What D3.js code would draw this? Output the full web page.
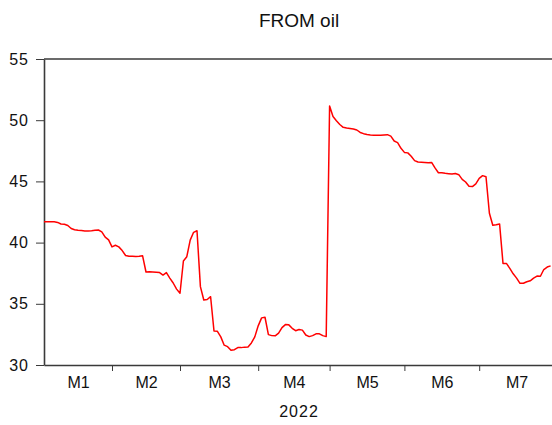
<!DOCTYPE html>
<html>
<head>
<meta charset="utf-8">
<script src="https://cdn.jsdelivr.net/npm/d3@7"></script>
<style>
  body { margin: 0; background: #fff; }
  svg { display: block; font-family: "Liberation Sans", Arial, sans-serif; }
</style>
</head>
<body>
<svg id="chart" width="552" height="425"></svg>
<script>
// daily (business day) observations, Jan 4 2022 .. Aug 1 2022
const oilValues = [
  41.71, 41.71, 41.70, 41.70, 41.65, 41.52, 41.50, 41.40, 41.15, 41.05,
  41.00, 40.98, 40.95, 40.95, 40.97, 41.00, 41.03, 40.88, 40.45, 40.22,
  39.65, 39.78, 39.65, 39.35, 38.95, 38.88, 38.88, 38.86, 38.88, 38.92,
  37.60, 37.62, 37.60, 37.58, 37.55, 37.35, 37.55, 37.10, 36.70, 36.20,
  35.86, 38.50, 38.85, 40.20, 40.84, 40.97, 36.40, 35.31, 35.35, 35.58,
  32.78, 32.75, 32.30, 31.62, 31.50, 31.20, 31.25, 31.42, 31.42, 31.46,
  31.47, 31.80, 32.30, 33.20, 33.85, 33.90, 32.48, 32.40, 32.38, 32.60,
  33.05, 33.30, 33.28, 33.00, 32.80, 32.90, 32.85, 32.45, 32.32, 32.40,
  32.55, 32.55, 32.40, 32.32, 51.16, 50.30, 49.95, 49.65, 49.42, 49.36,
  49.32, 49.28, 49.20, 49.00, 48.90, 48.83, 48.80, 48.78, 48.77, 48.77,
  48.80, 48.82, 48.70, 48.30, 48.17, 47.70, 47.37, 47.33, 47.05, 46.70,
  46.58, 46.57, 46.55, 46.52, 46.55, 46.10, 45.71, 45.70, 45.66, 45.63,
  45.60, 45.64, 45.55, 45.17, 44.95, 44.60, 44.58, 44.80, 45.25, 45.47,
  45.38, 42.40, 41.42, 41.45, 41.52, 38.30, 38.30, 37.90, 37.45, 37.10,
  36.67, 36.68, 36.80, 36.88, 37.10, 37.27, 37.25, 37.80, 38.00, 38.10
];

// index of first observation of each month, last entry = end of axis
const monthStarts = [0, 20, 40, 63, 84, 106, 128, 150];
const monthLabels = ["M1", "M2", "M3", "M4", "M5", "M6", "M7"];
const yTicks = [30, 35, 40, 45, 50, 55];
const yearLabel = "2022";
const title = "FROM oil";

const margin = { top: 59, left: 44, bottom: 60 };
const svg = d3.select("#chart");
const height = 425;

const x = d3.scaleLinear()
  .domain([0, monthStarts[monthStarts.length - 1]])
  .range([margin.left, 554]);

const y = d3.scaleLinear()
  .domain([30, 55])
  .range([height - margin.bottom, margin.top]);

// top border
svg.append("line")
  .attr("x1", x(0)).attr("x2", x.range()[1])
  .attr("y1", y(55)).attr("y2", y(55))
  .attr("stroke", "#3a3a3a").attr("stroke-width", 1.6);

// y axis
const yAxis = svg.append("g")
  .attr("transform", `translate(${x(0)},0)`)
  .call(d3.axisLeft(y).tickValues(yTicks).tickSizeInner(8).tickSizeOuter(0).tickPadding(7));
yAxis.select(".domain").attr("stroke", "#3a3a3a").attr("stroke-width", 1.6);
yAxis.selectAll(".tick line").attr("stroke", "#3a3a3a");
yAxis.selectAll(".tick text")
  .style("font-size", "16px")
  .style("letter-spacing", "1px")
  .style("font-family", "'Liberation Sans', Arial, sans-serif")
  .attr("fill", "#111");

// x axis: ticks at month boundaries
const xAxis = svg.append("g")
  .attr("transform", `translate(0,${y(30)})`)
  .call(d3.axisBottom(x)
    .tickValues(monthStarts.slice(1, -1))
    .tickFormat("")
    .tickSizeInner(6)
    .tickSizeOuter(0));
xAxis.select(".domain").attr("stroke", "#3a3a3a").attr("stroke-width", 1.6);
xAxis.selectAll(".tick line").attr("stroke", "#3a3a3a");

// month labels centred inside each month
const midpoints = monthLabels.map((m, i) => (monthStarts[i] + monthStarts[i + 1]) / 2);
const labelAxis = svg.append("g")
  .attr("transform", `translate(0,${y(30)})`)
  .call(d3.axisBottom(x)
    .tickValues(midpoints)
    .tickFormat((d, i) => monthLabels[i])
    .tickSize(0)
    .tickPadding(12));
labelAxis.select(".domain").remove();
labelAxis.selectAll(".tick text")
  .style("font-size", "16px")
  .style("font-family", "'Liberation Sans', Arial, sans-serif")
  .attr("fill", "#111");

// year label
svg.append("text")
  .attr("x", (x.range()[0] + x.range()[1]) / 2)
  .attr("y", 417)
  .attr("text-anchor", "middle")
  .style("font-size", "16px")
  .style("letter-spacing", "1px")
  .attr("fill", "#111")
  .text(yearLabel);

// title
svg.append("text")
  .attr("x", (x.range()[0] + x.range()[1]) / 2)
  .attr("y", 27)
  .attr("text-anchor", "middle")
  .style("font-size", "19px")
  .attr("fill", "#111")
  .text(title);

// series line
const line = d3.line()
  .x((d, i) => x(i))
  .y(d => y(d));

svg.append("path")
  .datum(oilValues)
  .attr("fill", "none")
  .attr("stroke", "#ff0000")
  .attr("stroke-width", 1.5)
  .attr("stroke-linejoin", "round")
  .attr("d", line);
</script>
</body>
</html>
